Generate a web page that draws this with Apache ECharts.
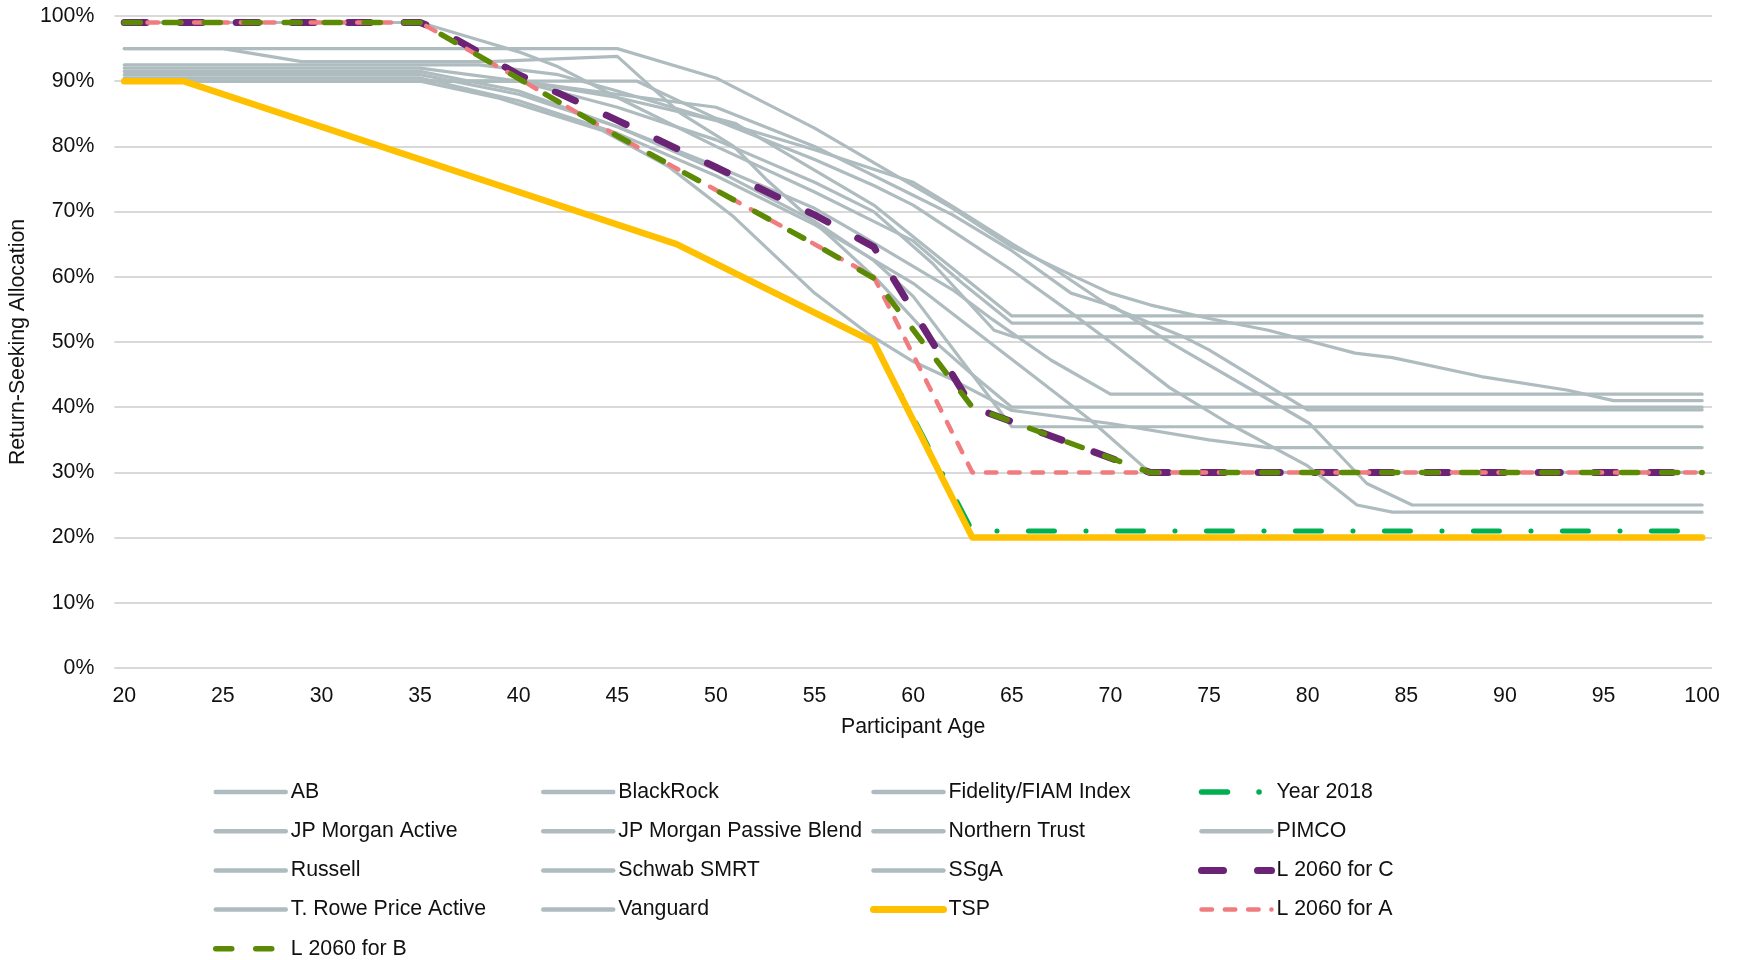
<!DOCTYPE html>
<html>
<head>
<meta charset="utf-8">
<script src="https://cdn.jsdelivr.net/npm/echarts@6/dist/echarts.min.js"></script>
<style>
html,body{margin:0;padding:0;background:#fff;}
#chart{width:1740px;height:960px;}
</style>
</head>
<body>
<div id="chart"></div>
<script>
// ---- data: [age, return-seeking allocation %] ----
const xTickLabels = [20,25,30,35,40,45,50,55,60,65,70,75,80,85,90,95,100];
const yTickLabels = [0,10,20,30,40,50,60,70,80,90,100];

const AB = [[20,99],[35,99],[37,97.2],[40,94.5],[42,92.2],[45,87.5],[50,80],[55,73],[58,68.5],[60,65.5],[62.5,59],[65,52.9],[100,52.9]];
const BlackRock = [[20,95],[45,95],[50,90.5],[55,82.8],[60,74],[62,70.5],[65,64.6],[68,60.3],[70,57.5],[72,55.7],[75,53.6],[78,51.8],[82.4,48.3],[84.3,47.6],[88.8,44.7],[93.2,42.6],[95.5,41],[100,41]];
const Fidelity = [[20,92.5],[38,92.5],[42,91],[45,88.5],[50,84],[55,79.5],[58,76.5],[60,74.5],[62,70.8],[65,65.1],[67,61.5],[70,55.4],[73.7,50.8],[75,48.8],[80,39.6],[100,39.6]];
const Year2018 = [[20,90],[23,90],[48,65],[58,50],[63,21],[100,21]];
const JPMActive = [[20,90],[46,90],[50,84.3],[51,83.5],[58,71],[65,54],[100,54]];
const JPMPassive = [[20,95],[25,95],[29,93],[38.5,93],[45,93.8],[46.5,89.7],[48.2,85.1],[50.9,80],[52.6,74.8],[56,65.6],[58.2,59.5],[61,50.3],[63,45],[65,40],[100,40]];
const NorthernTrust = [[20,91],[35,91],[40,88],[45,83],[50,77],[55,70.5],[57,67],[62,58],[64,53.5],[67,47.2],[70,42],[100,42]];
const PIMCO = [[20,90],[35,90],[39,87.4],[44.2,82.5],[47.6,76.9],[50.9,69.2],[55,57.5],[57.7,51.3],[60,47],[62,44.2],[65,39.5],[70,37.5],[75,35],[78,33.8],[100,33.8]];
const Russell = [[20,91.5],[35,91.5],[40,88.5],[45,83],[50,76.4],[55,68.5],[58,62.5],[60,57],[62.5,47],[65,37],[100,37]];
const Schwab = [[20,92],[35,92],[40,90],[45,86],[50,81],[55,74.5],[58,70],[61,62],[64.1,51.8],[65.1,50.8],[100,50.8]];
const SSgA = [[20,90.5],[35,90.5],[40,87],[45,82],[50,75.5],[55,68],[60,59],[63,52],[66,45],[69,38],[72,30],[100,30]];
const L2060C = [[20,99],[35,99],[36,97.8],[40,91],[45,84],[50,76.8],[55,69.5],[58,64.6],[63,40],[72,30],[100,30]];
const TRowe = [[20,90],[40,90],[45,88],[50,86],[55,80],[60,72.5],[62,69.5],[65,64],[68,57.5],[70.2,55.4],[73.1,49.8],[77.2,42.6],[80.1,37.5],[83,28.3],[85.3,25],[100,25]];
const Vanguard = [[20,90],[40,90],[45,87.5],[50,84],[55,78],[58,74],[60,71],[62,67],[65,61],[68,54.5],[70,50],[73,43],[76,37.5],[80,31],[82.5,25],[84.3,23.9],[100,23.9]];
const TSP = [[20,90],[23,90],[48,65],[58,50],[63,20],[100,20]];
const L2060A = [[20,99],[35,99],[36,97.3],[40,90.4],[45,81.6],[50,73.3],[55,65],[58,60],[63,30],[100,30]];
const L2060B = [[20,99],[35,99],[36,97.3],[40,90.4],[45,81.6],[50,73.3],[55,65],[58,59.8],[63,40],[72,30],[100,30]];

// ---- series list (drawing order = legend order) ----
const seriesDefs = [
  ['AB', AB, 'gray'], ['BlackRock', BlackRock, 'gray'], ['Fidelity/FIAM Index', Fidelity, 'gray'], ['Year 2018', Year2018, 'y2018'],
  ['JP Morgan Active', JPMActive, 'gray'], ['JP Morgan Passive Blend', JPMPassive, 'gray'], ['Northern Trust', NorthernTrust, 'gray'], ['PIMCO', PIMCO, 'gray'],
  ['Russell', Russell, 'gray'], ['Schwab SMRT', Schwab, 'gray'], ['SSgA', SSgA, 'gray'], ['L 2060 for C', L2060C, 'lc'],
  ['T. Rowe Price Active', TRowe, 'gray'], ['Vanguard', Vanguard, 'gray'], ['TSP', TSP, 'tsp'], ['L 2060 for A', L2060A, 'la'],
  ['L 2060 for B', L2060B, 'lb']
];

const styles = {
  gray:  {color:'#AFBCBF', width:3.2, type:'solid', lw:4.5},
  y2018: {color:'#00B050', width:5,   type:[26,31.5,0.1,31.4], lw:5.5},
  lc:    {color:'#6A2375', width:7,   type:[22,34], lw:7},
  tsp:   {color:'#FFC000', width:6.5, type:'solid', lw:7},
  la:    {color:'#F07C7F', width:4.5, type:[10.5,12.8], lw:4.5},
  lb:    {color:'#5C8A05', width:5.5, type:[16,24], lw:5.5}
};

const series = seriesDefs.map(([name, data, st]) => {
  const s = styles[st];
  return {
    name: name, type: 'line', data: data, symbol: 'none', showSymbol: false,
    silent: true,
    lineStyle: {color: s.color, width: s.width, type: s.type, cap: 'round', join: 'round'},
    itemStyle: {color: s.color}
  };
});

function legendItem(name) {
  const st = styles[seriesDefs.find(d => d[0] === name)[2]];
  return {
    name: name,
    itemStyle: {opacity: 0},
    lineStyle: {color: st.color, width: st.lw, type: st.type, cap: 'round', opacity: 1}
  };
}

const legendCols = [
  ['AB', 'JP Morgan Active', 'Russell', 'T. Rowe Price Active', 'L 2060 for B'],
  ['BlackRock', 'JP Morgan Passive Blend', 'Schwab SMRT', 'Vanguard'],
  ['Fidelity/FIAM Index', 'Northern Trust', 'SSgA', 'TSP'],
  ['Year 2018', 'PIMCO', 'L 2060 for C', 'L 2060 for A']
];
const legendLefts = [213, 541, 870, 1198];

const FONT = '"Liberation Sans", Arial, sans-serif';
const legends = legendCols.map((col, i) => ({
  orient: 'vertical', left: legendLefts[i], top: 781,
  itemWidth: 70, itemHeight: 14, itemGap: 17.2, padding: 0,
  selectedMode: false,
  data: col.map(legendItem),
  textStyle: {fontFamily: FONT, fontSize: 21.3, color: '#111', lineHeight: 22}
}));

const chart = echarts.init(document.getElementById('chart'), null, {renderer: 'canvas'});
chart.setOption({
  animation: false,
  backgroundColor: '#fff',
  textStyle: {fontFamily: FONT},
  grid: {left: 112, right: 28, top: 16, bottom: 292, containLabel: false},
  legend: legends,
  xAxis: {
    type: 'value', min: 19.5, max: 100.5,
    name: 'Participant Age', nameLocation: 'middle', nameGap: 49,
    nameTextStyle: {fontFamily: FONT, fontSize: 21.3, color: '#111'},
    axisLine: {show: false}, axisTick: {show: false}, splitLine: {show: false},
    axisLabel: {customValues: xTickLabels, fontFamily: FONT, fontSize: 21.3, color: '#111', margin: 18}
  },
  yAxis: {
    type: 'value', min: 0, max: 100, interval: 10,
    name: 'Return-Seeking Allocation', nameLocation: 'middle', nameGap: 79,
    nameTextStyle: {fontFamily: FONT, fontSize: 21.3, color: '#111'},
    axisLine: {show: false}, axisTick: {show: false},
    splitLine: {lineStyle: {color: '#D9D9D9', width: 2}},
    axisLabel: {fontFamily: FONT, fontSize: 21.3, color: '#111', margin: 20,
      customValues: yTickLabels, formatter: v => v + '%'}
  },
  series: series
});
</script>
</body>
</html>
